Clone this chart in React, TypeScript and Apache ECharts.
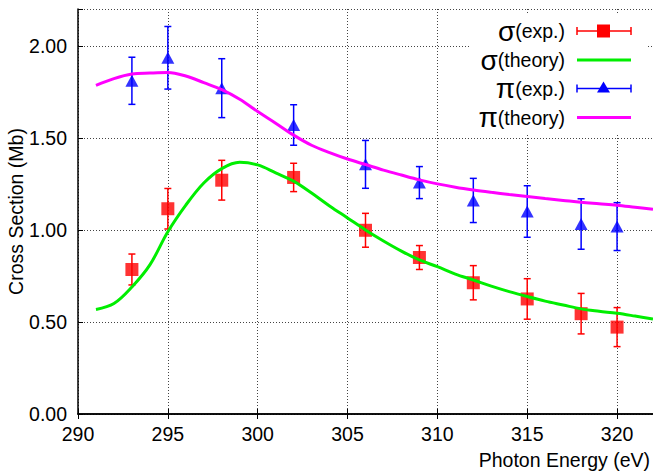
import React, { useEffect, useRef } from "react";
import * as echarts from "echarts";

// Measured points
const energies = [293, 295, 298, 302, 306, 309, 312, 315, 318, 320];
const sigmaExp = [0.785, 1.115, 1.27, 1.285, 0.998, 0.85, 0.713, 0.625, 0.545, 0.472];
const sigmaErr = [0.084, 0.11, 0.108, 0.077, 0.092, 0.065, 0.093, 0.11, 0.11, 0.106];
const piExp = [1.81, 1.935, 1.77, 1.57, 1.356, 1.257, 1.16, 1.1, 1.032, 1.018];
const piErr = [0.128, 0.17, 0.16, 0.11, 0.13, 0.087, 0.12, 0.14, 0.137, 0.13];

// Theory curves
const theoryX = [291, 292, 293, 294, 295, 296, 297, 298, 299, 300, 301, 302, 303, 304, 305, 306, 307, 308, 309, 310, 311, 312, 313, 314, 315, 316, 317, 318, 319, 320, 321, 322];
const sigmaTheory = [0.568, 0.6, 0.69, 0.81, 0.99, 1.135, 1.255, 1.333, 1.367, 1.353, 1.31, 1.265, 1.2, 1.13, 1.065, 1.0, 0.94, 0.885, 0.837, 0.8, 0.76, 0.728, 0.695, 0.665, 0.638, 0.613, 0.592, 0.571, 0.558, 0.547, 0.532, 0.516];
const piTheory = [1.785, 1.822, 1.847, 1.852, 1.855, 1.836, 1.8, 1.762, 1.71, 1.643, 1.58, 1.515, 1.46, 1.42, 1.385, 1.355, 1.325, 1.298, 1.272, 1.25, 1.232, 1.217, 1.204, 1.192, 1.181, 1.17, 1.16, 1.15, 1.142, 1.134, 1.123, 1.112];

const legendLabels = [
  { g: "σ", t: "(exp.)" },
  { g: "σ", t: "(theory)" },
  { g: "π", t: "(exp.)" },
  { g: "π", t: "(theory)" },
];

const FONT = "'Liberation Sans', Arial, Helvetica, sans-serif";
const FS = 19.5;

function errorBarSeries(color: string, data: number[][]) {
  return {
    type: "custom",
    data,
    z: 2,
    renderItem: (params: any, api: any) => {
      const x = api.value(0);
      const lo = api.coord([x, api.value(1)]);
      const hi = api.coord([x, api.value(2)]);
      const w = 3.5;
      const st = { stroke: color, lineWidth: 1.5 };
      return {
        type: "group",
        children: [
          { type: "line", shape: { x1: lo[0], y1: lo[1], x2: hi[0], y2: hi[1] }, style: st },
          { type: "line", shape: { x1: lo[0] - w, y1: lo[1], x2: lo[0] + w, y2: lo[1] }, style: st },
          { type: "line", shape: { x1: hi[0] - w, y1: hi[1], x2: hi[0] + w, y2: hi[1] }, style: st },
        ],
      };
    },
  };
}

export default function App() {
  const ref = useRef<HTMLDivElement>(null);
  useEffect(() => {
    if (!ref.current) return;
    const chart = echarts.init(ref.current, undefined, { renderer: "svg" });
    const sigErrData = energies.map((e, i) => [e, sigmaExp[i] - sigmaErr[i], sigmaExp[i] + sigmaErr[i]]);
    const piErrData = energies.map((e, i) => [e, piExp[i] - piErr[i], piExp[i] + piErr[i]]);

    const rowY = [31, 60, 88.5, 117.5];
    const legendGraphics: any[] = [
      { type: "rect", shape: { x: 470, y: 13, width: 176, height: 120 }, style: { fill: "#fff" }, z: 50 },
    ];
    legendLabels.forEach((l, i) => {
      legendGraphics.push({
        type: "text",
        x: 565,
        y: rowY[i],
        z: 51,
        style: {
          text: `{g|${l.g}}{t|${l.t}}`,
          align: "right",
          verticalAlign: "middle",
          rich: {
            g: { fontSize: 28, fontFamily: FONT, fill: "#000" },
            t: { fontSize: FS, fontFamily: FONT, fill: "#000" },
          },
        },
      });
    });
    [0, 2].forEach((i) => {
      const c = i === 0 ? "#ff0000" : "#0000ff";
      const y = rowY[i];
      const st = { stroke: c, lineWidth: 1.5 };
      legendGraphics.push(
        { type: "line", z: 51, shape: { x1: 577, y1: y, x2: 631, y2: y }, style: st },
        { type: "line", z: 51, shape: { x1: 577, y1: y - 4, x2: 577, y2: y + 4 }, style: st },
        { type: "line", z: 51, shape: { x1: 631, y1: y - 4, x2: 631, y2: y + 4 }, style: st }
      );
    });
    legendGraphics.push(
      { type: "rect", z: 52, shape: { x: 597, y: rowY[0] - 6.5, width: 13, height: 13 }, style: { fill: "#ff0000" } },
      { type: "polygon", z: 52, shape: { points: [[603.5, rowY[2] - 7], [597, rowY[2] + 4], [610, rowY[2] + 4]] }, style: { fill: "#0000ff" } },
      { type: "line", z: 51, shape: { x1: 577, y1: rowY[1], x2: 631, y2: rowY[1] }, style: { stroke: "#00ee00", lineWidth: 3 } },
      { type: "line", z: 51, shape: { x1: 577, y1: rowY[3], x2: 631, y2: rowY[3] }, style: { stroke: "#ff00ff", lineWidth: 3 } }
    );

    const gridLine = { show: true, lineStyle: { color: "#444", type: [1, 2], width: 1 } };

    chart.setOption({
      animation: false,
      backgroundColor: "#fff",
      grid: { left: 78, right: 0, top: 9, bottom: 58, containLabel: false, outerBoundsMode: "none" },
      xAxis: [
        {
          type: "value",
          min: 290,
          max: 322,
          interval: 5,
          name: "Photon Energy (eV)",
          nameLocation: "end",
          nameGap: -3,
          nameTextStyle: { align: "right", verticalAlign: "top", padding: [36, 0, 0, 0], fontSize: FS, fontFamily: FONT, color: "#000" },
          axisLine: { show: true, onZero: false, lineStyle: { color: "#000", width: 1.5 } },
          axisTick: { show: true, inside: true, length: 5, lineStyle: { color: "#000" } },
          axisLabel: {
            fontSize: FS,
            fontFamily: FONT,
            color: "#000",
            margin: 10,
            formatter: (v: number) => (v % 5 === 0 ? String(v) : ""),
          },
          splitLine: gridLine,
        },
        {
          type: "value",
          position: "top",
          min: 290,
          max: 322,
          interval: 5,
          axisLine: { show: true, lineStyle: { color: "#000", width: 1.5 } },
          axisTick: { show: true, inside: true, length: 5, lineStyle: { color: "#000" } },
          axisLabel: { show: false },
          splitLine: { show: false },
        },
      ],
      yAxis: {
        type: "value",
        min: 0,
        max: 2.2,
        interval: 0.5,
        name: "Cross Section (Mb)",
        nameLocation: "middle",
        nameGap: 52,
        nameMoveOverlap: false,
        nameTextStyle: { fontSize: FS, fontFamily: FONT, color: "#000" },
        axisLine: { show: true, lineStyle: { color: "#000", width: 1.5 } },
        axisTick: { show: true, inside: true, length: 5, lineStyle: { color: "#000" } },
        axisLabel: {
          fontSize: FS,
          fontFamily: FONT,
          color: "#000",
          margin: 11,
          formatter: (v: number) => (Math.abs(v * 2 - Math.round(v * 2)) < 1e-6 ? v.toFixed(2) : ""),
        },
        splitLine: gridLine,
      },
      series: [
        errorBarSeries("#ff0000", sigErrData),
        {
          type: "scatter",
          z: 3,
          symbol: "rect",
          symbolSize: 13,
          itemStyle: { color: "#ff0000" },
          data: energies.map((e, i) => [e, sigmaExp[i]]),
        },
        {
          type: "line",
          z: 4,
          smooth: 0.35,
          showSymbol: false,
          lineStyle: { color: "#00ee00", width: 3 },
          data: theoryX.map((x, i) => [x, sigmaTheory[i]]),
        },
        errorBarSeries("#0000ff", piErrData),
        {
          type: "scatter",
          z: 3,
          symbol: "triangle",
          symbolSize: [13, 12],
          itemStyle: { color: "#0000ff" },
          data: energies.map((e, i) => [e, piExp[i]]),
        },
        {
          type: "line",
          z: 4,
          smooth: 0.35,
          showSymbol: false,
          lineStyle: { color: "#ff00ff", width: 3 },
          data: theoryX.map((x, i) => [x, piTheory[i]]),
        },
      ],
      graphic: legendGraphics,
    });
    return () => chart.dispose();
  }, []);
  return <div ref={ref} style={{ width: 653, height: 472, position: "absolute", left: 0, top: 0 }} />;
}
